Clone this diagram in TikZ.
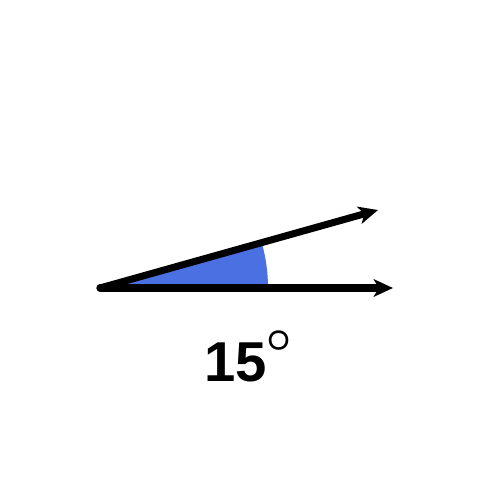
\documentclass[tikz,border=0pt]{standalone}
\usepackage{bm}
\usepackage{fontspec}
\setsansfont{Liberation Sans}
\usetikzlibrary{arrows.meta}
\definecolor{angleblue}{RGB}{74,112,226}

\begin{document}
\begin{tikzpicture}[>={Stealth[length=11pt,width=10pt,inset=3pt]},x=0.02cm,y=-0.02cm]
                \useasboundingbox (0,0) rectangle (496,500);
                \coordinate (O) at (100,288);
                \coordinate (A) at (393,288);
                \coordinate (B) at (378,210);
                \fill [angleblue] (O) -- ++(0:168) arc [start angle=0,end angle=-15.67,radius=168] -- cycle;
                \draw [line width=4pt,line cap=round,->] (O) -- (A);
                \draw [line width=4pt,line cap=round,->] (O) -- (B);
                \node [anchor=base] (lbl) at (248,381) {\fontsize{32}{36}\selectfont\sffamily\bfseries 15\raisebox{17pt}{\fontsize{40}{40}\selectfont$\scriptstyle\bm{\circ}$}};
            \end{tikzpicture}
\end{document}
